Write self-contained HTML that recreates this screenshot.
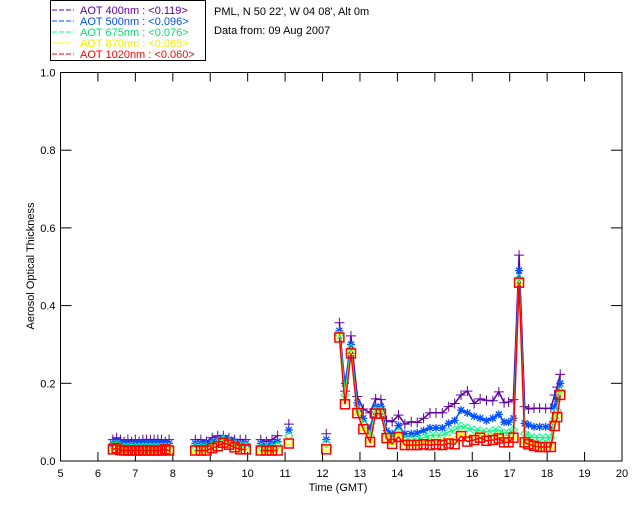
<!DOCTYPE html>
<html><head><meta charset="utf-8"><style>
body{margin:0;background:#fff;}
svg{display:block;font-family:"Liberation Sans",sans-serif;}
</style></head><body>
<svg id="chart" width="640" height="512">
<g>
<rect x="50.5" y="0.5" width="155" height="60" fill="#fff" stroke="#000"/>
<g font-size="11">
<line x1="52" y1="10" x2="74" y2="10" stroke="#6000a0" stroke-dasharray="5,2"/><text x="80" y="14" fill="#6000a0">AOT  400nm : &lt;0.119&gt;</text>
<line x1="52" y1="21" x2="74" y2="21" stroke="#0050ff" stroke-dasharray="5,2"/><text x="80" y="25" fill="#0050ff">AOT  500nm : &lt;0.096&gt;</text>
<line x1="52" y1="32" x2="74" y2="32" stroke="#00ff80" stroke-dasharray="5,2"/><text x="80" y="36" fill="#00e070">AOT  675nm : &lt;0.076&gt;</text>
<line x1="52" y1="43" x2="74" y2="43" stroke="#ffff00" stroke-dasharray="5,2"/><text x="80" y="47" fill="#f0f000">AOT  870nm : &lt;0.065&gt;</text>
<line x1="52" y1="54" x2="74" y2="54" stroke="#ff0000" stroke-dasharray="5,2"/><text x="80" y="58" fill="#ff0000">AOT 1020nm : &lt;0.060&gt;</text>
</g></g>
<text x="214" y="15" font-size="11">PML, N 50 22', W 04 08', Alt 0m</text>
<text x="214" y="34" font-size="11">Data from: 09 Aug 2007</text>
<rect x="60.5" y="72.5" width="561.5" height="388.5" fill="none" stroke="#000"/>
<g id="axes"></g>
<g id="series"></g>
<text x="338" y="491" font-size="11" text-anchor="middle">Time (GMT)</text>
<text transform="translate(34,266) rotate(-90)" font-size="11" text-anchor="middle">Aerosol Optical Thickness</text>
</svg>
<script>
const xTicks=[5,6,7,8,9,10,11,12,13,14,15,16,17,18,19,20];
const yTicks=[0,0.2,0.4,0.6,0.8,1.0];
const times=[6.4,6.5,6.6,6.7,6.8,6.9,7.0,7.1,7.2,7.3,7.4,7.5,7.6,7.7,7.8,7.9,null,
8.6,8.75,8.9,9.05,9.2,9.35,9.5,9.65,9.8,9.95,null,
10.35,10.5,10.65,10.8,null,11.1,null,12.1,null,
12.45,12.6,12.76,12.93,13.09,13.27,13.42,13.56,13.71,13.86,14.03,14.2,14.37,14.53,14.7,14.87,15.03,15.2,15.37,15.53,15.7,15.87,16.05,16.21,16.38,16.55,16.71,16.85,16.97,17.1,17.25,17.4,17.5,17.65,17.8,17.96,18.1,18.2,18.27,18.35];
const aot400=[0.055,0.06,0.055,0.05,0.055,0.05,0.055,0.05,0.055,0.055,0.055,0.055,0.055,0.055,0.05,0.055,null,
0.055,0.055,0.05,0.06,0.065,0.065,0.06,0.055,0.055,0.055,null,
0.055,0.05,0.055,0.065,null,0.095,null,0.07,null,
0.356,0.18,0.322,0.166,0.134,0.124,0.16,0.158,0.104,0.101,0.118,0.095,0.101,0.099,0.11,0.124,0.124,0.124,0.14,0.148,0.17,0.18,0.148,0.16,0.156,0.155,0.178,0.15,0.152,0.158,0.53,0.14,0.134,0.136,0.136,0.135,0.136,0.17,0.19,0.223];
const aot500=[0.045,0.05,0.045,0.045,0.045,0.04,0.045,0.045,0.045,0.045,0.045,0.045,0.045,0.045,0.045,0.045,null,
0.045,0.045,0.045,0.05,0.055,0.06,0.055,0.05,0.045,0.045,null,
0.045,0.04,0.045,0.05,null,0.08,null,0.055,null,
0.335,0.2,0.3,0.15,0.11,0.085,0.14,0.14,0.078,0.07,0.091,0.07,0.07,0.072,0.078,0.085,0.085,0.085,0.097,0.104,0.131,0.124,0.115,0.11,0.104,0.11,0.12,0.1,0.1,0.11,0.49,0.097,0.093,0.088,0.088,0.088,0.088,0.14,0.16,0.2];
const aot675=[0.038,0.042,0.038,0.036,0.036,0.034,0.036,0.036,0.036,0.036,0.036,0.036,0.036,0.036,0.036,0.036,null,
0.036,0.036,0.036,0.042,0.048,0.055,0.05,0.044,0.038,0.038,null,
0.036,0.034,0.036,0.04,null,0.065,null,0.045,null,
0.325,0.17,0.29,0.135,0.095,0.065,0.13,0.13,0.066,0.058,0.075,0.055,0.055,0.056,0.06,0.066,0.066,0.066,0.075,0.08,0.09,0.085,0.08,0.078,0.075,0.078,0.08,0.072,0.072,0.08,0.47,0.07,0.065,0.06,0.06,0.06,0.06,0.11,0.13,0.18];
const aot870=[0.033,0.036,0.032,0.03,0.03,0.03,0.03,0.03,0.03,0.03,0.03,0.03,0.03,0.03,0.032,0.03,null,
0.03,0.03,0.03,0.036,0.042,0.05,0.045,0.038,0.033,0.033,null,
0.03,0.03,0.03,0.033,null,0.05,null,0.035,null,
0.32,0.155,0.282,0.128,0.087,0.055,0.125,0.125,0.062,0.05,0.067,0.046,0.046,0.046,0.048,0.048,0.05,0.05,0.055,0.055,0.07,0.06,0.062,0.066,0.06,0.062,0.064,0.055,0.055,0.066,0.462,0.055,0.05,0.044,0.04,0.04,0.04,0.098,0.12,0.175];
const aot1020=[0.03,0.033,0.028,0.027,0.027,0.027,0.027,0.027,0.027,0.027,0.027,0.027,0.027,0.027,0.03,0.027,null,
0.027,0.027,0.027,0.033,0.038,0.047,0.042,0.035,0.03,0.03,null,
0.027,0.027,0.027,0.027,null,0.045,null,0.03,null,
0.318,0.146,0.277,0.123,0.082,0.049,0.122,0.122,0.059,0.044,0.062,0.041,0.041,0.041,0.043,0.041,0.043,0.041,0.045,0.043,0.064,0.05,0.054,0.06,0.052,0.054,0.058,0.048,0.048,0.06,0.459,0.048,0.043,0.039,0.036,0.036,0.036,0.09,0.113,0.17];
const NS='http://www.w3.org/2000/svg';
const X0=60.5,X1=622,Y0=461,Y1=72.5;
function xs(t){return X0+(t-5)/15*(X1-X0);}
function ys(v){return Y0-v*(Y0-Y1);}
function mk(tag,attrs,parent){const e=document.createElementNS(NS,tag);for(const k in attrs)e.setAttribute(k,attrs[k]);parent.appendChild(e);return e;}
const ax=document.getElementById('axes');
xTicks.forEach(t=>{const x=xs(t);
 mk('line',{x1:x,y1:Y0,x2:x,y2:Y0-9,stroke:'#000'},ax);
 mk('line',{x1:x,y1:Y1,x2:x,y2:Y1+9,stroke:'#000'},ax);
 const tx=mk('text',{x:x,y:Y0+16,'font-size':11,'text-anchor':'middle'},ax);tx.textContent=t;
 
 
});
yTicks.forEach(v=>{const y=ys(v);
 mk('line',{x1:X0,y1:y,x2:X0+11,y2:y,stroke:'#000'},ax);
 mk('line',{x1:X1,y1:y,x2:X1-11,y2:y,stroke:'#000'},ax);
 const tx=mk('text',{x:X0-5,y:y+4,'font-size':11,'text-anchor':'end'},ax);tx.textContent=v.toFixed(1);
 
 
});
const sg=document.getElementById('series');
const series=[[aot400,'#6000a0','plus'],[aot500,'#0050ff','star'],[aot675,'#00ff80','diamond'],[aot870,'#ffff00','tri'],[aot1020,'#ff0000','square']];
series.forEach(([vals,col,m],si)=>{
 const g=mk('g',{},sg);
 
 
 let d='',pen=false;
 times.forEach((t,i)=>{if(t===null||vals[i]===null){pen=false;return;}
  d+=(pen?'L':'M')+xs(t).toFixed(1)+' '+ys(vals[i]).toFixed(1);pen=true;});
 mk('path',{d:d,fill:'none',stroke:col,'stroke-width':1.5},g);
 times.forEach((t,i)=>{if(t===null||vals[i]===null)return;
  const x=xs(t),y=ys(vals[i]);let e;
  if(m==='plus')e=mk('path',{d:`M${x-5} ${y}H${x+5}M${x} ${y-5}V${y+5}`,stroke:col,fill:'none'},g);
  else if(m==='star')e=mk('path',{d:`M${x-4} ${y}H${x+4}M${x} ${y-4}V${y+4}M${x-3} ${y-3}L${x+3} ${y+3}M${x-3} ${y+3}L${x+3} ${y-3}`,stroke:col,fill:'none','stroke-width':1.3},g);
  else if(m==='diamond')e=mk('path',{d:`M${x} ${y-4}L${x+4} ${y}L${x} ${y+4}L${x-4} ${y}Z`,stroke:col,fill:'none'},g);
  else if(m==='tri')e=mk('path',{d:`M${x} ${y-4}L${x+4} ${y+3}L${x-4} ${y+3}Z`,stroke:col,fill:'none'},g);
  else e=mk('rect',{x:x-4.5,y:y-4.5,width:9,height:9,stroke:col,fill:'none','stroke-width':1.5},g);
  
  
 });
});
</script>
</body></html>
